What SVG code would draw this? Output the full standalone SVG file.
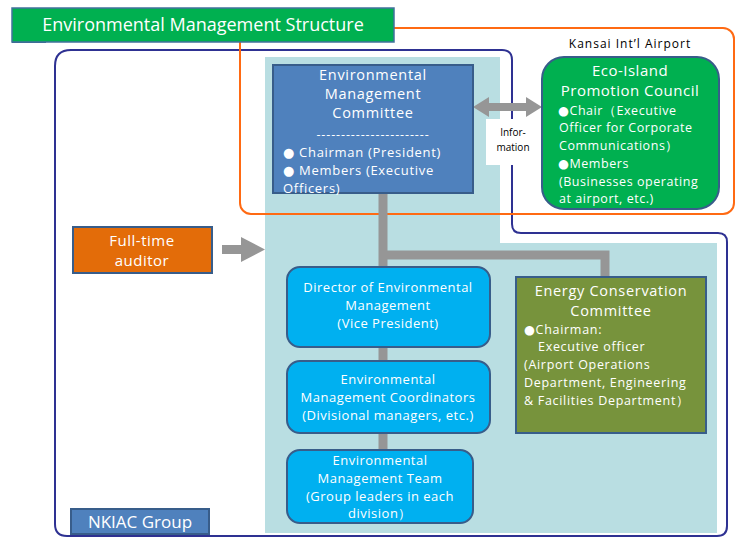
<svg xmlns="http://www.w3.org/2000/svg" width="738" height="539" viewBox="0 0 738 539">
  <defs>
    <style>
      .t { font-family: "Open Sans", "Liberation Sans", sans-serif; fill: #ffffff; }
      .k { font-family: "Open Sans", "Liberation Sans", sans-serif; fill: #000000; text-anchor: middle; }
      .c { text-anchor: middle; }
      .b { font-family: "DejaVu Sans", sans-serif; }
      .box { stroke: #385d8a; stroke-width: 2; }
      .conn { stroke: #969696; stroke-width: 9; fill: none; }
    </style>
  </defs>
  <rect x="0" y="0" width="738" height="539" fill="#ffffff"/>

  <!-- NKIAC group outline and the shaded area of the management body -->
  <g id="nkiac-area">
    <path d="M55,66 Q55,50 71,50 L502,50 Q512,50 512,60 L512,224 Q512,233 521,233 L718,233 Q727,233 727,242 L727,526 Q727,536 717,536 L67,536 Q55,536 55,524 Z" fill="none" stroke="#2e3192" stroke-width="2"/>
    <path d="M265,57 L500,57 L500,243 L717,243 L717,533 L265,533 Z" fill="#b9dee2"/>
  </g>

  <!-- Kansai Int'l Airport outline -->
  <g id="airport-area">
    <rect x="240" y="28" width="494" height="186" rx="11" fill="none" stroke="#ff6a13" stroke-width="2"/>
    <text x="630" y="48" class="k" font-size="12" letter-spacing="1">Kansai Int’l Airport</text>
  </g>

  <!-- Title -->
  <g id="title">
    <rect x="12" y="41" width="34" height="2" fill="#385d8a"/>
    <rect x="12" y="8" width="382" height="34" fill="#00b050" stroke="#41719c" stroke-width="1.5"/>
    <text x="203" y="31" class="t c" font-size="18">Environmental Management Structure</text>
  </g>

  <!-- Connectors -->
  <g id="connectors">
    <path class="conn" d="M383,193 L383,452"/>
    <path class="conn" d="M383,255 L605,255 L605,278"/>
    <!-- information exchange, two-headed -->
    <path d="M473,107 L489,97 L489,103 L526,103 L526,97 L542,107 L526,117 L526,111 L489,111 L489,117 Z" fill="#969696"/>
    <!-- auditor arrow -->
    <path d="M222,245 L241,245 L241,237 L265,249.5 L241,262 L241,254 L222,254 Z" fill="#969696"/>
    <rect x="486" y="119" width="46" height="46" fill="#ffffff"/>
    <text x="513" y="136" class="k" font-size="10">Infor-</text>
    <text x="513" y="151" class="k" font-size="10">mation</text>
  </g>

  <!-- Environmental Management Committee -->
  <g id="committee">
    <rect x="273" y="65" width="200" height="128" fill="#4f81bd" class="box"/>
    <g class="t c" font-size="14.5" letter-spacing="0.7">
      <text x="373" y="80">Environmental</text>
      <text x="373" y="99">Management</text>
      <text x="373" y="118">Committee</text>
    </g>
    <text x="373" y="139" class="t c" font-size="12.5" letter-spacing="0.9">-----------------------</text>
    <g class="t" font-size="13" letter-spacing="0.7">
      <text x="283" y="157"><tspan class="b">●</tspan> Chairman (President)</text>
      <text x="283" y="175"><tspan class="b">●</tspan> Members (Executive</text>
      <text x="283" y="193">Officers)</text>
    </g>
  </g>

  <!-- Eco-Island Promotion Council -->
  <g id="eco-island">
    <rect x="542" y="57" width="177" height="152" rx="22" fill="#00b050" class="box"/>
    <g class="t c" font-size="15" letter-spacing="0.5">
      <text x="630" y="76">Eco-Island</text>
      <text x="630" y="96">Promotion Council</text>
    </g>
    <g class="t" font-size="12.5" letter-spacing="0.55">
      <text x="558" y="115"><tspan class="b">●</tspan>Chair（Executive</text>
      <text x="559" y="132">Officer for Corporate</text>
      <text x="559" y="150">Communications）</text>
      <text x="558" y="168"><tspan class="b">●</tspan>Members</text>
      <text x="559" y="186">(Businesses operating</text>
      <text x="559" y="203">at airport, etc.)</text>
    </g>
  </g>

  <!-- Full-time auditor -->
  <g id="auditor">
    <rect x="73" y="227" width="139" height="46" fill="#e36c09" class="box"/>
    <g class="t c" font-size="15" letter-spacing="0.5">
      <text x="142" y="246">Full-time</text>
      <text x="142" y="266">auditor</text>
    </g>
  </g>

  <!-- Director of Environmental Management -->
  <g id="director">
    <rect x="287" y="267" width="203" height="80" rx="13" fill="#00b0f0" class="box"/>
    <g class="t c" font-size="13" letter-spacing="0.5">
      <text x="388" y="292">Director of Environmental</text>
      <text x="388" y="310">Management</text>
      <text x="388" y="328">(Vice President)</text>
    </g>
  </g>

  <!-- Environmental Management Coordinators -->
  <g id="coordinators">
    <rect x="287" y="361" width="203" height="72" rx="13" fill="#00b0f0" class="box"/>
    <g class="t c" font-size="13" letter-spacing="0.5">
      <text x="388" y="384">Environmental</text>
      <text x="388" y="402">Management Coordinators</text>
      <text x="388" y="420">(Divisional managers, etc.)</text>
    </g>
  </g>

  <!-- Environmental Management Team -->
  <g id="team">
    <rect x="287" y="450" width="186" height="73" rx="13" fill="#00b0f0" class="box"/>
    <g class="t c" font-size="13" letter-spacing="0.5">
      <text x="380" y="465">Environmental</text>
      <text x="380" y="483">Management Team</text>
      <text x="380" y="501">(Group leaders in each</text>
      <text x="380" y="518">division）</text>
    </g>
  </g>

  <!-- Energy Conservation Committee -->
  <g id="energy">
    <rect x="516" y="277" width="190" height="156" fill="#77933c" class="box"/>
    <g class="t c" font-size="14.5" letter-spacing="0.7">
      <text x="611" y="296">Energy Conservation</text>
      <text x="611" y="316">Committee</text>
    </g>
    <g class="t" font-size="12.5" letter-spacing="0.7">
      <text x="524" y="334"><tspan class="b">●</tspan>Chairman:</text>
      <text x="538" y="351">Executive  officer</text>
      <text x="524" y="369">(Airport Operations</text>
      <text x="524" y="387">Department, Engineering</text>
      <text x="524" y="405">&amp; Facilities Department）</text>
    </g>
  </g>

  <!-- Group label -->
  <g id="nkiac-label">
    <rect x="71" y="509" width="138" height="25" fill="#4f81bd" class="box"/>
    <text x="140" y="528" class="t c" font-size="17">NKIAC Group</text>
  </g>
</svg>
